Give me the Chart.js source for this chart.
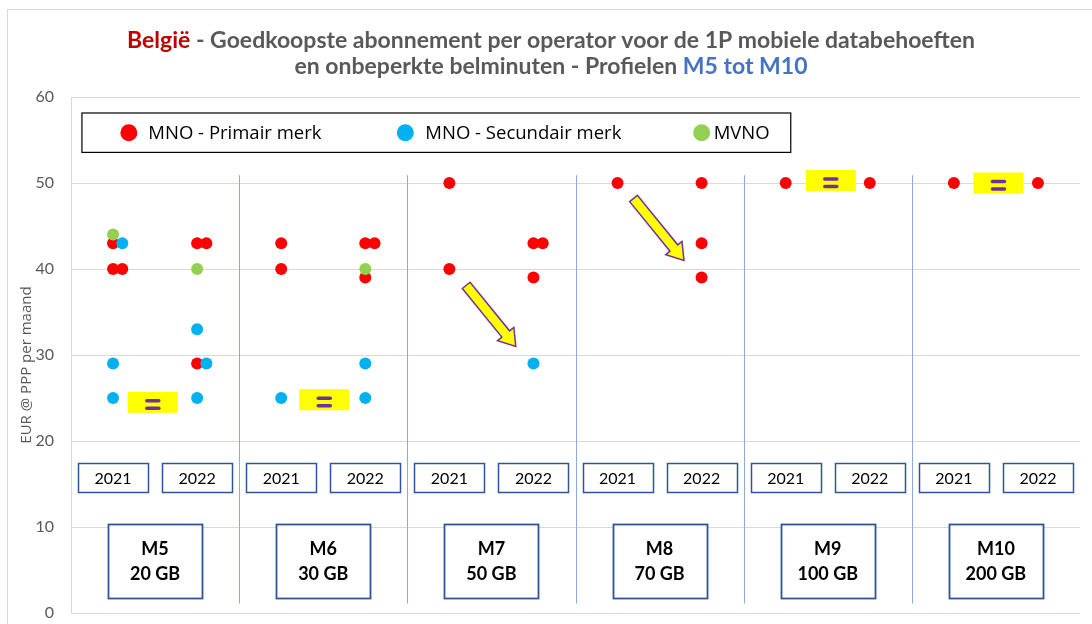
<!DOCTYPE html>
<html>
<head>
<meta charset="utf-8">
<script src="https://cdn.jsdelivr.net/npm/chart.js@4.4.1/dist/chart.umd.min.js"></script>
<style>
  html, body { margin: 0; padding: 0; background: #fff; }
  #wrap { width: 1092px; height: 624px; }
</style>
</head>
<body>
<div id="wrap"><canvas id="scatterChart"></canvas></div>
<script>
const profiles = ['M5', 'M6', 'M7', 'M8', 'M9', 'M10'];
const volumes = ['20 GB', '30 GB', '50 GB', '70 GB', '100 GB', '200 GB'];
const years = ['2021', '2022'];
const seriesNames = ['MNO - Primair merk', 'MNO - Secundair merk', 'MVNO'];
const seriesColors = ['#FF0000', '#00B0F0', '#92D050'];
const yTitle = 'EUR @ PPP per maand';

// column = profile index * 2 + year index; slot 1 = dot shifted next to an equal price
const primairCol  = [0, 0, 0, 1, 1, 1, 2, 2, 3, 3, 3, 4, 4, 5, 5, 5, 6, 7, 7, 7, 8, 9, 10, 11];
const primairEur  = [43, 40, 40, 43, 43, 29, 43, 40, 43, 43, 39, 50, 40, 43, 43, 39, 50, 50, 43, 39, 50, 50, 50, 50];
const primairSlot = [0, 0, 1, 0, 1, 0, 0, 0, 0, 1, 0, 0, 0, 0, 1, 0, 0, 0, 0, 0, 0, 0, 0, 0];

const secundairCol  = [0, 0, 0, 1, 1, 1, 2, 3, 3, 5];
const secundairEur  = [43, 29, 25, 33, 29, 25, 25, 29, 25, 29];
const secundairSlot = [1, 0, 0, 0, 1, 0, 0, 0, 0, 0];

const mvnoCol  = [0, 1, 3];
const mvnoEur  = [44, 40, 40];
const mvnoSlot = [0, 0, 0];

const yTicks = [0, 10, 20, 30, 40, 50, 60];

const toPoints = (cols, eur, slots) => cols.map((c, i) => ({ x: c + 0.5 + slots[i] * 0.11, y: eur[i] }));

// annotation placement, in axis units
const separatorsAt = [2, 4, 6, 8, 10];
const equalsMarks = [
    { x: 0.973, y: 24.5 },
    { x: 3.012, y: 24.8 },
    { x: 9.036, y: 50.3 },
    { x: 11.03, y: 50.0 }
];
const arrows = [
    { from: [4.70, 38.1], to: [5.29, 31.0] },
    { from: [6.69, 48.2], to: [7.29, 41.0] }
];

const GRAY = '#595959';
const BOX_BLUE = '#2F5597';
const PURPLE = '#7030A0';

function drawParts(ctx, parts, cx, y) {
    const total = parts.reduce((s, p) => s + ctx.measureText(p[0]).width, 0);
    let x = cx - total / 2;
    ctx.textAlign = 'left';
    parts.forEach(p => {
        ctx.fillStyle = p[1];
        ctx.fillText(p[0], x, y);
        x += ctx.measureText(p[0]).width;
    });
}

const decorations = {
    id: 'decorations',
    beforeDraw(chart) {
        const ctx = chart.ctx;
        ctx.save();
        ctx.fillStyle = '#fff';
        ctx.fillRect(0, 0, chart.width, chart.height);
        ctx.strokeStyle = '#D9D9D9';
        ctx.lineWidth = 1;
        ctx.strokeRect(7.5, 9.5, 1300, 900);

        // title
        ctx.font = 'bold 23px Lato';
        ctx.textBaseline = 'alphabetic';
        drawParts(ctx, [['België', '#C00000'], [' - Goedkoopste abonnement per operator voor de 1P mobiele databehoeften', GRAY]], 551, 48);
        drawParts(ctx, [['en onbeperkte belminuten - Profielen ', GRAY], ['M5 tot M10', '#4472C4']], 551, 74);

        // y axis title
        ctx.translate(27, 365);
        ctx.rotate(-Math.PI / 2);
        ctx.font = '15px "Open Sans"';
        ctx.textAlign = 'center';
        ctx.textBaseline = 'middle';
        ctx.fillStyle = GRAY;
        ctx.fillText(yTitle, 0, 0);
        ctx.restore();
    },
    beforeDatasetsDraw(chart) {
        const ctx = chart.ctx;
        const sx = v => chart.scales.x.getPixelForValue(v);
        const sy = v => chart.scales.y.getPixelForValue(v);
        ctx.save();

        // group separators
        ctx.strokeStyle = '#8FAADC';
        ctx.lineWidth = 1;
        separatorsAt.forEach(v => {
            const x = Math.round(sx(v)) + 0.5;
            ctx.beginPath();
            ctx.moveTo(x, sy(50.9));
            ctx.lineTo(x, sy(1.1));
            ctx.stroke();
        });

        // legend box
        const lx = sx(0.13), rx = sx(8.56);
        const ty = sy(58.14), by = sy(53.56);
        ctx.fillStyle = '#fff';
        ctx.fillRect(lx, ty, rx - lx, by - ty);
        ctx.strokeStyle = '#000';
        ctx.lineWidth = 1.2;
        ctx.strokeRect(lx, ty, rx - lx, by - ty);
        const dotX = [0.688, 3.976, 7.5];
        const textX = [0.92, 4.214, 7.643];
        const ly = (ty + by) / 2;
        ctx.font = '18.5px "Open Sans"';
        ctx.textBaseline = 'middle';
        ctx.textAlign = 'left';
        seriesNames.forEach((name, i) => {
            ctx.fillStyle = seriesColors[i];
            ctx.beginPath();
            ctx.arc(sx(dotX[i]), ly, 8.5, 0, Math.PI * 2);
            ctx.fill();
            ctx.fillStyle = '#000';
            ctx.fillText(name, sx(textX[i]), ly + 1);
        });

        // year boxes
        ctx.lineWidth = 1.5;
        ctx.strokeStyle = BOX_BLUE;
        ctx.font = '16px Lato';
        ctx.textAlign = 'center';
        profiles.forEach((p, g) => {
            years.forEach((yr, k) => {
                const c = sx(g * 2 + k + 0.5);
                const x0 = Math.round(c - 35) + 0.5, w = 70;
                const y0 = Math.round(sy(17.4)) + 0.5, h = Math.round(sy(14.0) - sy(17.4));
                ctx.fillStyle = '#fff';
                ctx.fillRect(x0, y0, w, h);
                ctx.strokeRect(x0, y0, w, h);
                ctx.fillStyle = '#000';
                ctx.fillText(yr, c, y0 + h / 2 + 1);
            });
        });

        // profile boxes
        ctx.lineWidth = 1.8;
        ctx.font = 'bold 18px Lato';
        profiles.forEach((p, g) => {
            const c = sx(g * 2 + 1);
            const x0 = Math.round(c - 47) + 0.5, w = 94;
            const y0 = Math.round(sy(10.38)) + 0.5, h = Math.round(sy(1.81) - sy(10.38));
            ctx.fillStyle = '#fff';
            ctx.fillRect(x0, y0, w, h);
            ctx.strokeRect(x0, y0, w, h);
            ctx.fillStyle = '#000';
            ctx.fillText(p, c, y0 + h / 2 - 12);
            ctx.fillText(volumes[g], c, y0 + h / 2 + 13);
        });

        // "=" marks
        equalsMarks.forEach(m => {
            const cx = sx(m.x), cy = sy(m.y);
            ctx.fillStyle = '#FFFF00';
            ctx.fillRect(cx - 25, cy - 10.5, 50, 21);
            ctx.strokeStyle = PURPLE;
            ctx.lineWidth = 3.5;
            ctx.lineCap = 'round';
            [-0.5, 7].forEach(dy => {
                ctx.beginPath();
                ctx.moveTo(cx - 6, cy + dy - 1);
                ctx.lineTo(cx + 6, cy + dy - 1);
                ctx.stroke();
            });
        });

        // arrows
        arrows.forEach(a => {
            const tx = sx(a.from[0]), ty2 = sy(a.from[1]);
            const px = sx(a.to[0]), py = sy(a.to[1]);
            const len = Math.hypot(px - tx, py - ty2);
            const dx = (px - tx) / len, dy = (py - ty2) / len;
            const nx = -dy, ny = dx;
            const bx = px - dx * 16, by2 = py - dy * 16;
            ctx.beginPath();
            ctx.moveTo(tx + nx * 5, ty2 + ny * 5);
            ctx.lineTo(bx + nx * 5, by2 + ny * 5);
            ctx.lineTo(bx + nx * 10.5, by2 + ny * 10.5);
            ctx.lineTo(px, py);
            ctx.lineTo(bx - nx * 10.5, by2 - ny * 10.5);
            ctx.lineTo(bx - nx * 5, by2 - ny * 5);
            ctx.lineTo(tx - nx * 5, ty2 - ny * 5);
            ctx.closePath();
            ctx.fillStyle = '#FFFF00';
            ctx.fill();
            ctx.strokeStyle = PURPLE;
            ctx.lineWidth = 1.5;
            ctx.lineJoin = 'miter';
            ctx.stroke();
        });

        ctx.restore();
    }
};

const scatterCtx = document.getElementById('scatterChart').getContext('2d');

new Chart(scatterCtx, {
    type: 'scatter',
    data: {
        datasets: [{
            label: seriesNames[0],
            data: toPoints(primairCol, primairEur, primairSlot),
            backgroundColor: seriesColors[0],
            order: 3
        }, {
            label: seriesNames[1],
            data: toPoints(secundairCol, secundairEur, secundairSlot),
            backgroundColor: seriesColors[1],
            order: 2
        }, {
            label: seriesNames[2],
            data: toPoints(mvnoCol, mvnoEur, mvnoSlot),
            backgroundColor: seriesColors[2],
            order: 1
        }]
    },
    options: {
        responsive: true,
        maintainAspectRatio: false,
        animation: false,
        layout: {
            padding: { top: 97, right: 12, bottom: 11, left: 0 }
        },
        elements: {
            point: { radius: 6, hoverRadius: 6, borderWidth: 0 }
        },
        plugins: {
            legend: { display: false },
            tooltip: { enabled: false }
        },
        scales: {
            x: {
                type: 'linear',
                display: false,
                min: 0,
                max: 12
            },
            y: {
                min: 0,
                max: 60,
                afterBuildTicks: s => { s.ticks = yTicks.map(v => ({ value: v })); },
                afterFit: s => { s.width = 71; },
                grid: { color: '#D9D9D9', drawTicks: true, tickLength: 16, tickColor: 'rgba(0,0,0,0)' },
                border: { color: '#D9D9D9' },
                ticks: {
                    color: GRAY,
                    padding: 1,
                    font: { family: 'Lato', size: 16 }
                }
            }
        }
    },
    plugins: [decorations]
});
</script>
</body>
</html>
